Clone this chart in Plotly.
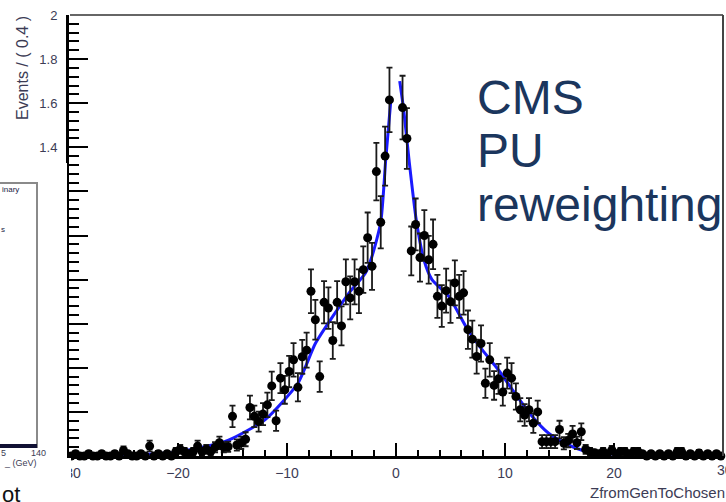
import numpy as np
import plotly.graph_objects as go

# ---------------- data ----------------
bin_centers = [round(-29.8 + 0.4 * k, 1) for k in range(150)]

events = [
    0, 0.01, 0, 0, 0.01, 0, 0, 0.01, 0, 0,                      # -29.8 .. -26.2
    0.01, 0, 0.025, 0.01, 0, 0, 0.01, 0, 0.045, 0,              # -25.8 .. -22.2
    0.01, 0, 0.01, 0, 0.02, 0.03, 0.02, 0.01, 0.02, 0.045,      # -21.8 .. -18.2
    0.02, 0.03, 0.02, 0.04, 0.06, 0.04, 0.042, 0.18, 0.05, 0.06,  # -17.8 .. -14.2
    0.076, 0.22, 0.18, 0.156, 0.19, 0.232, 0.318, 0.16, 0.353, 0.30,  # -13.8 .. -10.2
    0.383, 0.436, 0.312, 0.45, 0.48, 0.747, 0.618, 0.36, 0.697, 0.671,  # -9.8 .. -6.2
    0.524, 0.697, 0.59, 0.79, 0.717, 0.79, 0.747, 0.845, 0.99, 0.86,  # -5.8 .. -2.2
    1.29, 1.06, 1.36, 1.615, None, None, 1.58, 1.44, 0.93, 1.05,  # -1.8 .. 1.8
    0.90, 1.0, 0.89, 0.96, 0.724, 0.68, 0.75, 0.70, 0.785, 0.724,  # 2.2 .. 5.8
    0.74, 0.573, 0.53, 0.451, 0.51, 0.33, 0.436, 0.32, 0.35, 0.29,  # 6.2 .. 9.8
    0.376, 0.353, 0.27, 0.21, 0.186, 0.21, 0.149, 0.2, 0.065, 0.065,  # 10.2 .. 13.8
    0.065, 0.065, 0.12, 0.058, 0.07, 0.10, 0.06, 0.11, 0.03, 0.02,  # 14.2 .. 17.8
    0.015, 0.01, 0.02, 0.01, 0.027, 0.01, 0.02, 0.02, 0.01, 0.02,  # 18.2 .. 21.8
    0.02, 0.01, 0, 0.01, 0, 0.01, 0, 0.01, 0, 0.02,            # 22.2 .. 25.8
    0.02, 0, 0.01, 0, 0.014, 0, 0.01, 0, 0.01, 0,              # 26.2 .. 29.8
]

fit_left_x = [-30, -26, -22, -20, -18, -16, -15, -12, -9, -7.4, -5.8, -4.3, -2.8, -2.2, -1.4, -0.94, -0.48]
fit_left_y = [0.003, 0.005, 0.01, 0.018, 0.038, 0.06, 0.08, 0.165, 0.33, 0.51, 0.633, 0.74, 0.83, 0.906, 1.06, 1.345, 1.61]
fit_right_x = [0.34, 0.73, 1.19, 1.86, 2.56, 3.3, 4.85, 6.4, 7.9, 9.4, 10.9, 12.5, 14.0, 15.5, 17.0, 18.6, 21, 25, 30]
fit_right_y = [1.70, 1.56, 1.345, 1.07, 0.89, 0.80, 0.724, 0.588, 0.482, 0.39, 0.285, 0.179, 0.103, 0.058, 0.027, 0.012, 0.008, 0.005, 0.003]

x_ticks = [-30, -20, -10, 0, 10, 20]
y_ticks = [0, 0.2, 0.4, 0.6, 0.8, 1.0, 1.2, 1.4, 1.6, 1.8, 2.0]
y_ticktext = ["", "", "", "", "", "", "", "1.4", "1.6", "1.8", "2"]

# Poisson-like weighted uncertainty per bin
err = [float(np.sqrt(v * 0.0132)) if v else 0.0 for v in events]

# ---------------- geometry helpers (pixel -> paper) ----------------
W, H = 726, 502
L, R, T, B = 69, 3, 15, 46
PW, PH = W - L - R, H - T - B


def px(x):
    return (x - L) / PW


def py(y):
    return (H - B - y) / PH


fig = go.Figure()

fig.add_trace(go.Scatter(
    x=fit_left_x + [None] + fit_right_x,
    y=fit_left_y + [None] + fit_right_y,
    mode="lines", line=dict(color="#1a1aff", width=3, shape="spline", smoothing=0.6),
    connectgaps=False, hoverinfo="skip", showlegend=False,
))

fig.add_trace(go.Scatter(
    x=bin_centers, y=events, mode="markers",
    marker=dict(color="black", size=9),
    error_y=dict(type="data", array=err, visible=True, color="#1a1a1a", thickness=1.8, width=3),
    cliponaxis=False, showlegend=False,
))

label_color = "#3c3c55"
fig.update_layout(
    width=W, height=H, margin=dict(l=L, r=R, t=T, b=B),
    paper_bgcolor="white", plot_bgcolor="white",
    font=dict(family="Liberation Sans, Arial, sans-serif", color=label_color),
    xaxis=dict(range=[-30, 30], tickvals=x_ticks, ticks="inside", ticklen=13, tickwidth=2,
               tickcolor="black", showline=True, linewidth=3, linecolor="black",
               showgrid=False, zeroline=False, tickfont=dict(size=14, color=label_color),
               ticklabelstandoff=2,
               minor=dict(dtick=2, tick0=-30, ticks="inside", ticklen=6, tickwidth=1.5, tickcolor="black")),
    yaxis=dict(range=[0, 2], tickvals=y_ticks, ticktext=y_ticktext, ticks="inside", ticklen=19,
               tickwidth=2, tickcolor="black", showline=True, linewidth=3, linecolor="black",
               showgrid=False, zeroline=False, tickfont=dict(size=13, color=label_color),
               ticklabelstandoff=6,
               minor=dict(dtick=0.04, tick0=0, ticks="inside", ticklen=10, tickwidth=1.5, tickcolor="black")),
)

shapes = []
# top & right frame lines
shapes.append(dict(type="line", xref="paper", yref="paper", x0=px(70), x1=px(723), y0=py(15), y1=py(15),
                   line=dict(color="#666666", width=2), layer="above"))
shapes.append(dict(type="line", xref="paper", yref="paper", x0=px(723), x1=px(723), y0=py(15), y1=py(456),
                   line=dict(color="#444444", width=2), layer="above"))
# white overlay of neighbouring slide image on the left
shapes.append(dict(type="rect", xref="paper", yref="paper", x0=px(-5), x1=px(67), y0=py(163), y1=py(458),
                   fillcolor="white", line=dict(width=0), layer="above"))
shapes.append(dict(type="rect", xref="paper", yref="paper", x0=px(-5), x1=px(71), y0=py(458), y1=py(510),
                   fillcolor="white", line=dict(width=0), layer="above"))
# partial neighbouring plot box
shapes.append(dict(type="rect", xref="paper", yref="paper", x0=px(-5), x1=px(37), y0=py(183), y1=py(447),
                   fillcolor="rgba(0,0,0,0)", line=dict(color="#8a8a8a", width=2), layer="above"))
shapes.append(dict(type="line", xref="paper", yref="paper", x0=px(0), x1=px(37), y0=py(446), y1=py(446),
                   line=dict(color="#111133", width=4), layer="above"))
fig.update_layout(shapes=shapes)

ann = []
text_color = "#1b365d"
for txt, yc in [("CMS", 97), ("PU", 150), ("reweighting", 205)]:
    ann.append(dict(text=txt, xref="paper", yref="paper", x=px(475), y=py(yc), xanchor="left", yanchor="middle",
                    showarrow=False, font=dict(size=48, color=text_color, family="Liberation Sans, Arial")))
ann.append(dict(text="Events / ( 0.4 )", xref="paper", yref="paper", x=px(22), y=py(14), xanchor="center",
                yanchor="top", textangle=-90, showarrow=False, font=dict(size=16, color=label_color)))
ann.append(dict(text="ZfromGenToChosen", xref="paper", yref="paper", x=px(727), y=py(492), xanchor="right",
                yanchor="middle", showarrow=False, font=dict(size=15, color=label_color)))
ann.append(dict(text="30", xref="paper", yref="paper", x=px(725), y=py(470), xanchor="center",
                yanchor="middle", showarrow=False, font=dict(size=14, color=label_color)))
ann.append(dict(text="inary", xref="paper", yref="paper", x=px(0), y=py(189), xanchor="left", yanchor="middle",
                showarrow=False, font=dict(size=8, color="#222244")))
ann.append(dict(text="s", xref="paper", yref="paper", x=px(-1), y=py(230), xanchor="left", yanchor="middle",
                showarrow=False, font=dict(size=8, color="#222244")))
ann.append(dict(text="5", xref="paper", yref="paper", x=px(3), y=py(453), xanchor="center", yanchor="middle",
                showarrow=False, font=dict(size=9, color=label_color)))
ann.append(dict(text="140", xref="paper", yref="paper", x=px(38), y=py(453), xanchor="center", yanchor="middle",
                showarrow=False, font=dict(size=9, color=label_color)))
ann.append(dict(text="_ (GeV)", xref="paper", yref="paper", x=px(20), y=py(463), xanchor="center", yanchor="middle",
                showarrow=False, font=dict(size=9, color=label_color)))
ann.append(dict(text="ot", xref="paper", yref="paper", x=px(0), y=py(494), xanchor="left", yanchor="middle",
                showarrow=False, font=dict(size=22, color="#111111")))
fig.update_layout(annotations=ann)

fig.write_html("out.html")
